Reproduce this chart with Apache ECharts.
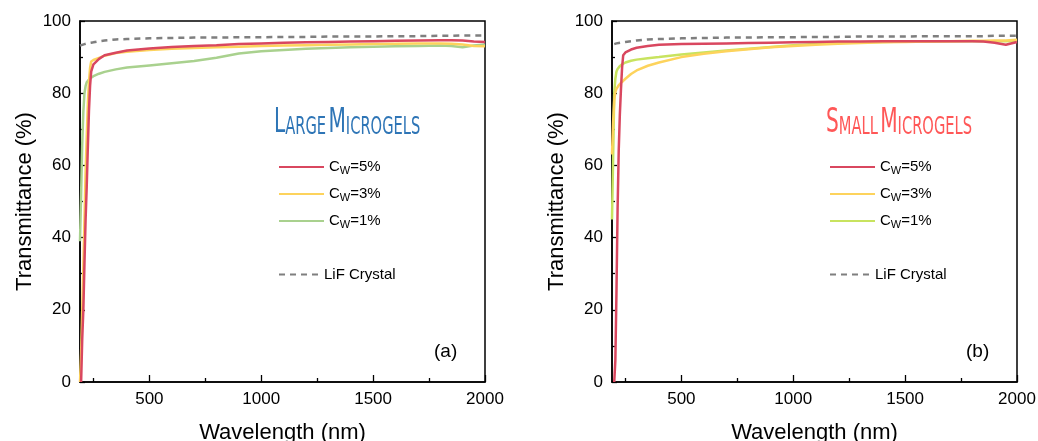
<!DOCTYPE html>
<html>
<head>
<meta charset="utf-8">
<script src="https://cdn.jsdelivr.net/npm/echarts@6/dist/echarts.min.js"></script>
<style>html,body{margin:0;padding:0;background:#fff}#c{width:1038px;height:441px}</style>
</head>
<body>
<div id="c"></div>
<script>
// ---- data ----
const wavelengths = [190,195,200,205,210,215,220,225,230,235,240,250,275,300,350,400,500,600,700,800,900,1000,1100,1200,1300,1400,1500,1600,1700,1800,1850,1900,1950,2000];
const xTickLabels = [500,1000,1500,2000];
const xMinorTicks = [250,750,1250,1750];

// Panel (a) Large microgels
const redA    = [null,0,12,20,33,45,54,65,75,82,86,88,89.5,90.5,91.2,91.8,92.4,92.8,93.1,93.3,93.6,93.8,94,94.1,94.2,94.3,94.4,94.5,94.6,94.7,94.7,94.6,94.3,94.2];
const yellowA = [0,8,20,32,45,58,68,77,83,87,88.8,89.2,89.8,90.4,91.1,91.5,92,92.3,92.5,92.7,92.9,93.1,93.2,93.3,93.4,93.5,93.6,93.7,93.8,93.8,93.7,93.5,93.1,93];
const greenA  = [39,52,66,75,80,82,83,83.5,83.8,84.1,84.3,84.7,85.4,85.9,86.6,87.1,87.7,88.3,88.9,89.8,91,91.6,92,92.3,92.5,92.7,92.9,93,93.1,93.2,93.1,92.7,93.2,93.5];
const lifA    = [93.2,93.3,93.4,93.5,93.6,93.7,93.8,93.85,93.9,93.95,94,94.1,94.4,94.6,94.9,95,95.2,95.3,95.4,95.4,95.5,95.5,95.6,95.6,95.7,95.7,95.7,95.8,95.8,95.9,95.9,96,96,96];

// Panel (b) Small microgels
const redB    = [null,null,0,6,25,48,64,74,81,87,90.5,91.3,92.1,92.6,93.1,93.4,93.6,93.7,93.8,93.9,94,94.1,94.2,94.3,94.3,94.4,94.4,94.4,94.4,94.4,94.3,94,93.4,94.2];
const yellowB = [63,72,78,80.3,81.2,81.7,82.2,82.6,82.9,83.2,83.4,84,85.3,86.3,87.6,88.5,90,90.9,91.6,92.2,92.7,93.1,93.4,93.7,93.9,94.1,94.2,94.3,94.4,94.5,94.5,94.6,94.6,94.8];
const greenB  = [45,62,80,84,86,86.7,87.2,87.5,87.8,88,88.2,88.5,89,89.3,89.7,90,90.7,91.3,91.8,92.3,92.8,93.3,93.6,93.9,94.1,94.2,94.3,94.3,94.4,94.4,94.4,94.4,94.4,94.5];
const lifB    = [null,null,93.6,93.7,93.8,93.85,93.9,93.95,94,94.05,94.1,94.2,94.4,94.6,94.9,95,95.2,95.3,95.4,95.4,95.5,95.5,95.6,95.6,95.7,95.7,95.7,95.8,95.8,95.8,95.8,95.9,95.9,95.9];

const legendLabels = {a5:'5%', a3:'3%', a1:'1%', b5:'5%', b3:'3%', b1:'1%'};
// ---- chart ----
const FONT = '"Liberation Sans", Arial, sans-serif';
const pair = ys => wavelengths.map((x,i)=>[x, ys[i]]);
const RED = '#d9475f', YEL = '#fdd35c', GRA = '#a9d18e', GRB = '#c8e35f', GRAY = '#7f7f7f';

const grids = [
  {left:80, top:21, width:405, height:361},
  {left:612, top:21, width:405, height:361}
];
function xMain(gi){
  return {type:'value', gridIndex:gi, min:190, max:2000,
    name:'Wavelength (nm)', nameLocation:'middle', nameGap:40,
    nameTextStyle:{fontFamily:FONT, fontSize:22, color:'#000'},
    axisLine:{show:true, lineStyle:{color:'#000', width:1.5}},
    axisTick:{show:true, inside:true, length:7, customValues:xTickLabels, lineStyle:{color:'#000', width:1.3}},
    axisLabel:{show:true, customValues:xTickLabels, margin:9, fontFamily:FONT, fontSize:17, color:'#000', formatter: v => String(v)},
    splitLine:{show:false}};
}
function xMinor(gi){
  return {type:'value', gridIndex:gi, min:190, max:2000, position:'bottom',
    axisLine:{show:false},
    axisTick:{show:true, inside:true, length:4, customValues:xMinorTicks, lineStyle:{color:'#000', width:1.3}},
    axisLabel:{show:false}, splitLine:{show:false}};
}
function yAx(gi){
  return {type:'value', gridIndex:gi, min:0, max:100, interval:20,
    name:'Transmittance (%)', nameLocation:'middle', nameGap:44,
    nameTextStyle:{fontFamily:FONT, fontSize:22, color:'#000'},
    axisLine:{show:true, lineStyle:{color:'#000', width:1.5}},
    axisTick:{show:true, inside:true, length:5, lineStyle:{color:'#000', width:1.3}},
    minorTick:{show:true, splitNumber:2, length:3, lineStyle:{color:'#000', width:1.3}},
    axisLabel:{margin:9, fontFamily:FONT, fontSize:17, color:'#000'},
    splitLine:{show:false}};
}
function ser(name, xi, ys, color, dashed, z){
  return {name, type:'line', xAxisIndex:xi, yAxisIndex:xi, data:pair(ys),
    symbol:'none', showSymbol:false, z:z, silent:true, animation:false,
    lineStyle:{color, width:2.5, type: dashed ? [6,5] : 'solid'},
    itemStyle:{color}};
}
const rich = {c:{fontFamily:FONT, fontSize:15, color:'#000', lineHeight:18},
              w:{fontFamily:FONT, fontSize:11, color:'#000', lineHeight:18, verticalAlign:'bottom', padding:[6,0,0,0]}};
function legendCw(names, left){
  return {orient:'vertical', left, top:159, itemWidth:45, itemHeight:14, itemGap:10,
    data:names, selectedMode:false,
    itemStyle:{color:'rgba(0,0,0,0)', borderWidth:0},
    formatter: n => '{c|C}{w|W}{c|=' + legendLabels[n] + '}',
    textStyle:{rich}, padding:0};
}
function legendLif(name, left){
  return {orient:'vertical', left, top:267, itemWidth:40, itemHeight:14, data:[name], selectedMode:false,
    itemStyle:{color:'rgba(0,0,0,0)', borderWidth:0},
    formatter: () => 'LiF Crystal', textStyle:{fontFamily:FONT, fontSize:15, color:'#000'}, padding:0};
}
function titleText(x, y, color, big1, small1, big2, small2){
  const ff = '"Liberation Sans Narrow", "DejaVu Sans Condensed", sans-serif';
  return {type:'text', x, y, scaleX:0.68, style:{
    text:'{b|'+big1+'}{s|'+small1+'} {b|'+big2+'}{s|'+small2+'}',
    rich:{b:{fontFamily:ff, fontSize:33, fill:color, lineHeight:36, verticalAlign:'bottom'},
          s:{fontFamily:ff, fontSize:24, fill:color, lineHeight:36, verticalAlign:'bottom'}},
    fill:color}};
}

const chart = echarts.init(document.getElementById('c'), null, {renderer:'canvas'});
chart.setOption({
  animation:false,
  backgroundColor:'#fff',
  grid: grids.map(g=>Object.assign({show:true, borderColor:'#000', borderWidth:1.5, backgroundColor:'transparent', containLabel:false, outerBoundsMode:'none'}, g)),
  xAxis:[xMain(0), xMain(1), xMinor(0), xMinor(1)],
  yAxis:[yAx(0), yAx(1)],
  legend:[legendCw(['a5','a3','a1'], 278), legendLif('aL', 278), legendCw(['b5','b3','b1'], 829), legendLif('bL', 829)],
  series:[
    ser('aL',0,lifA,GRAY,true,2), ser('a1',0,greenA,GRA,false,3), ser('a3',0,yellowA,YEL,false,4), ser('a5',0,redA,RED,false,5),
    ser('bL',1,lifB,GRAY,true,2), ser('b1',1,greenB,GRB,false,3), ser('b3',1,yellowB,YEL,false,4), ser('b5',1,redB,RED,false,5)
  ],
  graphic:[
    titleText(274, 104, '#2e75b6', 'L','ARGE','M','ICROGELS'),
    titleText(826, 104, '#ff5757', 'S','MALL','M','ICROGELS'),
    {type:'text', left:434, top:342, style:{text:'(a)', font:'19px '+FONT, fill:'#000'}},
    {type:'text', left:966, top:342, style:{text:'(b)', font:'19px '+FONT, fill:'#000'}}
  ]
});
</script>
</body>
</html>
